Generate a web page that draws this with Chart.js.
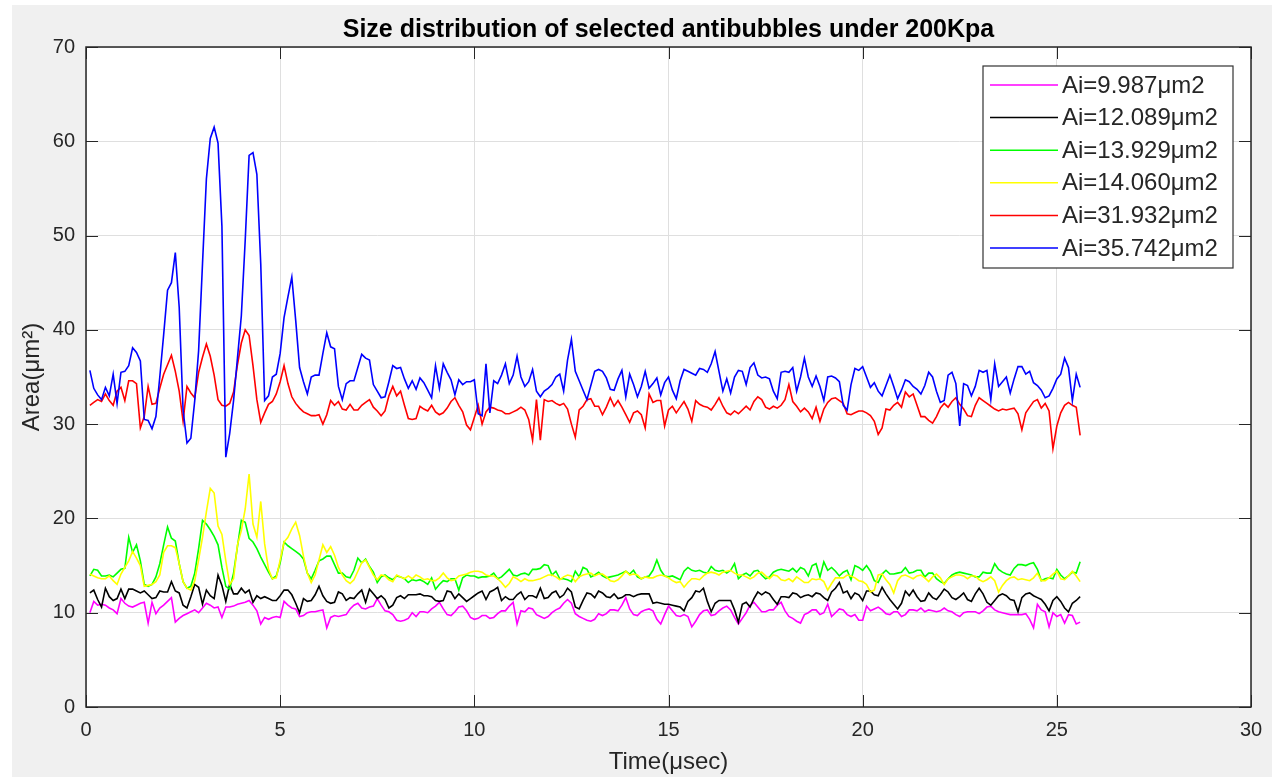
<!DOCTYPE html>
<html lang="en">
<head>
    <meta charset="UTF-8">
    <title>Size distribution of selected antibubbles under 200Kpa</title>
    <script src="https://cdn.jsdelivr.net/npm/chart.js"></script>
    <style>
        html, body { margin: 0; padding: 0; background: #fff; }
        #wrap { width: 1272px; height: 777px; }
    </style>
</head>
<body>
    <div id="wrap"><canvas id="areaChart" width="1272" height="777"></canvas></div>

    <script>
        // time axis (usec)
        const time = [
            0.1,0.2,0.3,0.4,0.5,0.6,0.7,0.8,0.9,1.0,
            1.1,1.2,1.3,1.4,1.5,1.6,1.7,1.8,1.9,2.0,
            2.1,2.2,2.3,2.4,2.5,2.6,2.7,2.8,2.9,3.0,
            3.1,3.2,3.3,3.4,3.5,3.6,3.7,3.8,3.9,4.0,
            4.1,4.2,4.3,4.4,4.5,4.6,4.7,4.8,4.9,5.0,
            5.1,5.2,5.3,5.4,5.5,5.6,5.7,5.8,5.9,6.0,
            6.1,6.2,6.3,6.4,6.5,6.6,6.7,6.8,6.9,7.0,
            7.1,7.2,7.3,7.4,7.5,7.6,7.7,7.8,7.9,8.0,
            8.1,8.2,8.3,8.4,8.5,8.6,8.7,8.8,8.9,9.0,
            9.1,9.2,9.3,9.4,9.5,9.6,9.7,9.8,9.9,10.0,
            10.1,10.2,10.3,10.4,10.5,10.6,10.7,10.8,10.9,11.0,
            11.1,11.2,11.3,11.4,11.5,11.6,11.7,11.8,11.9,12.0,
            12.1,12.2,12.3,12.4,12.5,12.6,12.7,12.8,12.9,13.0,
            13.1,13.2,13.3,13.4,13.5,13.6,13.7,13.8,13.9,14.0,
            14.1,14.2,14.3,14.4,14.5,14.6,14.7,14.8,14.9,15.0,
            15.1,15.2,15.3,15.4,15.5,15.6,15.7,15.8,15.9,16.0,
            16.1,16.2,16.3,16.4,16.5,16.6,16.7,16.8,16.9,17.0,
            17.1,17.2,17.3,17.4,17.5,17.6,17.7,17.8,17.9,18.0,
            18.1,18.2,18.3,18.4,18.5,18.6,18.7,18.8,18.9,19.0,
            19.1,19.2,19.3,19.4,19.5,19.6,19.7,19.8,19.9,20.0,
            20.1,20.2,20.3,20.4,20.5,20.6,20.7,20.8,20.9,21.0,
            21.1,21.2,21.3,21.4,21.5,21.6,21.7,21.8,21.9,22.0,
            22.1,22.2,22.3,22.4,22.5,22.6,22.7,22.8,22.9,23.0,
            23.1,23.2,23.3,23.4,23.5,23.6,23.7,23.8,23.9,24.0,
            24.1,24.2,24.3,24.4,24.5,24.6,24.7,24.8,24.9,25.0,
            25.1,25.2,25.3,25.4,25.5,25.6
        ];

        const a9987 = [
            10.0,11.2,10.8,10.9,10.8,10.5,10.3,9.9,11.5,11.0,
            10.7,10.6,10.8,11.0,11.1,8.9,11.1,9.9,10.5,10.8,
            11.2,11.6,9.0,9.4,9.7,9.9,10.1,10.3,10.0,10.5,
            11.0,10.8,10.5,10.6,9.5,10.6,10.6,10.7,10.9,11.0,
            11.1,11.3,10.8,10.2,8.8,9.5,9.3,9.5,9.6,9.5,
            11.2,10.8,10.5,10.4,9.6,9.7,10.0,10.1,10.1,10.2,
            10.3,8.4,9.5,9.7,9.6,9.7,9.8,10.4,10.8,11.0,
            10.5,10.4,10.6,10.7,11.5,10.8,10.2,10.1,9.8,9.2,
            9.1,9.2,9.4,10.0,9.6,10.1,10.1,10.0,10.4,10.7,
            11.1,10.4,9.8,9.7,10.1,10.6,10.7,10.2,9.5,9.3,
            9.4,9.7,9.7,9.4,9.5,9.9,10.2,10.2,10.7,11.1,
            8.8,10.2,10.1,10.5,10.4,9.8,9.6,9.4,9.6,10.0,
            10.3,10.5,11.0,11.4,11.0,9.9,9.6,9.4,9.2,9.1,
            9.3,9.9,9.7,9.9,10.3,10.3,10.2,10.8,11.6,10.4,
            9.8,9.7,10.1,10.3,10.4,10.2,9.3,8.8,9.8,10.7,
            10.2,9.7,9.6,9.8,9.6,8.5,9.1,9.8,10.2,10.3,
            9.7,9.8,10.2,10.5,10.7,10.3,9.5,8.8,9.4,10.0,
            10.8,11.1,10.6,10.1,10.1,10.3,10.3,10.8,11.1,10.2,
            9.6,9.4,9.1,8.9,9.8,10.0,10.3,10.3,9.8,10.0,
            10.9,9.6,10.0,10.4,10.3,9.8,9.6,9.8,9.2,9.2,
            10.7,10.2,10.4,10.6,10.3,9.9,9.8,10.1,10.1,9.6,
            9.8,10.3,10.3,10.2,10.5,10.1,10.3,10.2,10.1,10.2,
            10.5,10.2,10.1,9.8,9.6,10.0,10.1,10.1,10.1,9.9,
            10.2,10.6,10.7,10.3,10.1,10.0,9.9,9.8,9.8,9.8,
            9.8,9.9,9.3,8.4,10.9,10.3,10.1,8.5,10.0,9.6,
            9.8,8.9,9.8,9.7,8.8,9.0
        ];

        const a12089 = [
            12.1,12.4,11.4,10.6,12.6,11.7,11.3,11.5,12.5,11.5,
            12.5,12.5,12.3,12.1,12.3,11.9,11.5,11.6,12.3,12.2,
            12.2,13.3,12.3,12.1,10.8,10.5,11.7,13.0,12.7,10.9,
            12.4,11.8,11.5,14.0,12.9,11.2,13.0,12.0,12.0,12.6,
            12.1,12.4,11.1,11.8,11.5,11.7,11.5,11.3,11.3,11.8,
            12.4,12.4,11.9,11.0,10.0,11.5,11.2,11.3,11.9,12.8,
            11.8,11.2,11.0,11.1,12.2,12.0,11.3,11.6,11.5,12.0,
            12.4,11.1,12.5,12.0,11.5,11.8,11.4,10.5,10.8,11.6,
            11.8,11.5,11.9,11.9,11.9,12.0,11.8,11.8,11.7,11.3,
            11.2,11.3,12.3,12.2,11.5,12.0,11.6,11.2,11.5,11.8,
            12.1,12.3,11.4,12.2,12.4,12.7,11.3,11.7,11.4,11.4,
            11.9,12.2,11.4,11.8,11.8,11.6,12.6,11.5,11.6,12.1,
            12.3,11.6,11.9,12.6,12.2,10.6,10.4,11.3,12.1,12.0,
            11.6,12.3,12.1,11.7,11.6,12.0,11.5,11.6,11.9,11.9,
            11.7,11.9,12.0,12.0,12.0,11.0,11.1,11.0,10.9,10.9,
            10.8,10.7,10.6,10.2,11.2,11.6,12.3,12.2,12.6,11.2,
            10.1,11.0,11.3,11.3,11.3,11.3,10.3,9.0,10.9,11.1,
            10.6,11.5,12.2,11.9,12.2,12.0,11.4,10.9,11.7,11.7,
            11.6,12.1,12.0,11.6,11.8,11.9,11.7,12.1,12.0,11.6,
            11.3,12.2,12.6,13.2,12.1,12.3,11.5,12.1,11.9,11.3,
            12.3,12.3,11.9,11.8,12.7,12.0,11.4,10.9,10.4,11.0,
            12.3,11.8,12.4,11.7,11.2,11.3,12.1,11.6,11.4,11.9,
            12.5,12.2,11.6,11.4,11.7,12.1,11.4,11.2,12.0,12.6,
            12.0,11.1,10.8,11.3,11.8,12.0,11.8,11.4,11.3,10.1,
            11.6,12.0,12.1,11.8,11.6,11.4,10.9,10.2,11.3,11.7,
            11.2,10.5,10.1,11.0,11.3,11.7
        ];

        const a13929 = [
            13.9,14.6,14.5,13.9,13.9,14.0,13.8,14.2,14.6,14.7,
            18.0,16.4,17.2,15.5,13.0,12.8,13.0,13.8,15.2,17.2,
            19.1,17.9,17.6,15.2,13.3,12.6,12.8,14.2,16.8,19.8,
            19.4,18.8,18.1,17.2,14.8,12.8,12.5,14.2,17.0,19.8,
            19.6,17.9,17.5,16.8,15.9,15.1,14.3,13.6,13.9,15.3,
            17.5,17.1,16.8,16.5,16.2,15.7,14.2,13.6,14.5,15.5,
            15.7,16.0,16.0,15.1,14.2,14.2,13.8,13.7,14.5,15.8,
            15.3,15.7,14.9,14.3,13.2,13.8,14.0,13.7,13.5,13.9,
            13.8,13.6,13.2,13.5,13.4,13.5,13.3,13.0,13.7,12.5,
            13.0,13.4,13.3,13.6,13.6,12.4,13.7,14.0,13.9,13.9,
            13.7,13.8,13.8,13.9,14.2,13.6,13.8,14.2,14.6,14.0,
            13.9,14.1,14.2,14.0,14.6,14.6,14.7,15.1,15.0,14.0,
            14.4,13.6,13.6,13.5,13.3,14.4,13.8,14.8,14.6,13.8,
            14.0,14.3,13.9,13.7,13.8,13.9,14.0,14.2,14.4,14.1,
            14.5,13.8,13.6,13.8,13.9,14.5,15.6,14.5,13.9,13.8,
            13.9,13.7,13.5,14.4,14.8,14.5,14.4,14.5,14.3,14.2,
            14.9,14.5,14.4,14.5,14.2,14.5,15.2,13.6,14.0,14.2,
            13.9,14.4,14.5,14.0,13.6,13.8,14.3,14.5,14.6,14.5,
            14.4,14.7,14.3,14.8,14.6,13.9,15.0,15.2,13.8,15.4,
            14.5,14.8,14.4,13.9,14.3,14.5,13.5,15.0,14.8,14.5,
            15.0,14.4,13.4,13.2,14.1,14.5,14.1,14.1,14.2,14.3,
            14.8,14.2,14.3,14.5,14.5,13.8,14.2,14.2,13.6,13.3,
            13.1,13.6,14.0,14.2,14.3,14.2,14.1,14.0,13.8,13.8,
            14.3,14.2,14.2,15.2,14.6,14.3,14.1,14.0,14.7,15.1,
            15.1,15.0,15.2,15.3,14.6,13.4,13.6,13.7,13.6,14.6,
            14.0,13.6,13.9,14.3,14.2,15.4
        ];

        const a14060 = [
            14.1,13.9,13.7,13.6,13.6,13.9,13.4,13.0,14.1,14.8,
            15.5,16.5,15.8,15.0,12.8,12.9,13.0,13.3,14.0,16.4,
            17.1,17.1,16.9,15.2,13.3,12.6,12.4,13.4,15.6,18.0,
            20.7,23.2,22.7,19.2,18.3,15.5,13.0,13.6,17.2,18.7,
            21.0,24.7,19.4,18.0,21.8,17.3,14.6,13.6,13.7,15.6,
            17.5,18.0,18.9,19.6,18.2,16.0,14.2,13.2,14.0,15.6,
            17.2,16.4,17.0,16.1,14.8,14.0,13.4,13.1,13.5,14.4,
            15.3,15.6,14.8,14.0,13.5,14.0,13.9,13.5,13.3,14.0,
            13.8,13.6,13.9,13.6,14.0,13.8,13.5,13.6,13.4,13.4,
            13.7,14.2,13.7,13.4,13.5,13.9,14.0,14.1,14.3,14.4,
            14.4,14.3,14.0,13.9,13.9,13.6,13.2,12.7,13.1,13.8,
            13.6,13.3,13.6,13.4,13.4,13.5,13.6,13.8,14.0,14.0,
            13.8,13.5,13.8,14.0,13.9,13.3,13.8,14.0,14.1,14.2,
            13.9,14.1,14.1,13.8,13.4,13.3,13.5,13.9,14.4,14.0,
            14.1,14.0,13.6,13.8,13.7,13.7,13.9,14.0,13.9,13.7,
            13.4,13.2,13.3,12.7,13.2,13.6,13.6,13.5,13.9,14.2,
            14.3,14.2,14.0,14.3,14.4,14.5,14.2,14.0,14.0,13.8,
            13.6,13.8,14.2,14.3,13.9,13.6,14.0,13.9,13.5,13.4,
            13.6,13.3,13.8,13.5,13.2,13.2,13.6,13.5,13.6,13.3,
            12.4,13.1,13.7,13.7,13.7,14.0,13.9,13.7,13.4,13.3,
            13.0,12.2,12.4,14.0,14.1,13.5,13.0,12.1,13.4,13.9,
            14.0,13.8,13.6,13.9,14.0,13.7,13.3,13.8,14.1,13.7,
            13.0,13.6,13.8,14.0,14.0,13.9,13.6,13.9,13.9,13.5,
            13.3,13.5,13.8,13.4,12.2,12.9,13.4,13.7,13.8,13.5,
            13.6,13.5,13.4,13.7,14.2,13.4,13.4,13.7,14.1,14.4,
            13.6,13.5,13.9,14.4,13.9,13.3
        ];

        const a31932 = [
            32.0,32.3,32.6,32.4,33.2,32.5,32.0,33.5,33.9,32.5,
            34.6,34.6,34.3,29.6,30.8,34.0,32.1,32.2,33.8,35.3,
            36.3,37.3,35.6,33.5,30.3,34.0,33.3,32.8,35.5,37.1,
            38.5,37.2,35.2,32.6,32.0,31.9,32.2,33.4,36.3,38.6,
            40.0,39.4,36.2,32.6,30.2,31.2,32.1,32.4,33.2,34.5,
            36.2,34.3,32.9,32.2,31.7,31.3,31.1,30.9,30.9,31.0,
            30.0,31.0,32.5,32.0,32.4,31.6,31.5,32.1,31.5,31.5,
            32.0,32.3,32.6,31.8,31.4,30.9,31.4,33.0,34.0,33.0,
            33.5,32.0,30.6,30.5,30.6,31.9,31.6,31.4,32.0,31.3,
            31.0,31.2,31.7,32.4,32.8,32.0,31.3,29.9,29.4,30.7,
            32.0,30.0,31.3,31.8,31.7,31.5,31.4,31.1,31.1,31.3,
            31.5,31.8,31.5,30.5,28.3,32.6,28.3,32.6,32.4,32.5,
            32.2,32.0,32.2,31.6,30.0,28.6,31.5,31.9,32.6,32.7,
            31.9,31.9,31.0,31.8,32.8,31.9,32.5,31.8,31.0,30.2,
            31.2,31.4,31.0,29.6,33.2,32.3,32.5,32.5,29.8,31.5,
            31.9,31.2,31.8,32.4,31.6,30.3,32.5,32.1,31.9,31.8,
            31.5,32.1,32.8,31.9,31.2,31.0,31.4,31.1,31.5,31.9,
            31.5,32.4,32.9,32.6,31.8,31.6,31.9,31.7,32.0,32.6,
            34.2,32.4,31.9,31.3,31.7,31.3,30.6,31.8,30.3,31.6,
            32.3,32.7,32.8,32.5,32.2,31.1,31.0,31.2,31.4,31.4,
            31.2,30.9,30.3,28.9,29.6,31.6,31.5,32.0,32.3,31.8,
            33.4,32.9,33.2,32.0,30.8,30.8,30.4,30.1,30.8,31.7,
            32.2,31.8,32.4,32.8,32.1,31.6,30.9,30.8,32.0,32.8,
            32.5,32.2,31.9,31.6,31.4,31.6,31.5,31.6,31.7,31.1,
            29.4,31.2,31.8,32.4,32.6,31.7,32.2,31.4,27.4,29.8,
            31.2,32.0,32.3,32.0,31.8,28.8
        ];

        const a35742 = [
            35.7,33.8,33.1,32.6,33.9,33.0,35.3,32.2,35.5,35.6,
            36.2,38.1,37.6,36.7,30.5,30.4,29.5,30.8,35.0,39.5,
            44.2,45.0,48.2,42.4,31.5,28.0,28.5,32.5,37.8,47.0,
            56.0,60.3,61.5,59.8,51.0,26.5,29.0,32.5,37.0,41.5,
            49.5,58.5,58.8,56.5,47.0,32.5,33.0,35.0,35.3,37.5,
            41.3,43.5,45.6,41.0,36.0,34.5,33.2,35.0,35.2,35.2,
            37.5,39.7,38.2,38.0,34.0,32.6,34.3,34.6,34.6,36.0,
            37.4,37.0,36.8,34.2,33.5,32.8,32.9,34.5,36.2,35.9,
            36.0,34.8,33.8,34.6,33.7,34.9,34.4,33.6,32.8,36.2,
            33.8,36.4,35.5,34.7,33.1,34.7,34.2,34.5,34.5,34.7,
            31.1,30.9,36.4,31.2,34.6,34.3,35.2,36.4,34.3,35.2,
            37.2,35.0,34.0,34.5,35.8,33.5,32.9,33.5,33.8,34.2,
            35.0,35.3,33.5,36.8,39.0,35.6,34.6,33.6,32.6,34.1,
            35.6,35.8,35.6,34.9,33.7,33.6,34.8,35.7,32.9,35.3,
            34.2,32.9,34.0,35.6,33.8,34.3,34.9,33.1,34.4,35.0,
            33.6,32.7,34.6,35.8,35.6,35.4,35.2,35.9,35.8,35.5,
            36.4,37.7,35.6,33.5,34.8,33.3,35.0,35.7,35.6,34.2,
            36.0,36.5,35.2,34.9,35.0,34.8,33.5,32.7,35.5,35.6,
            35.5,36.0,33.5,35.0,37.0,35.0,34.0,35.1,34.0,32.5,
            35.0,35.1,34.9,34.5,32.0,31.5,34.2,35.9,35.7,36.1,
            35.0,33.9,34.4,33.5,33.0,34.1,35.2,34.0,32.7,33.6,
            34.7,34.5,34.0,33.7,33.2,34.1,35.5,35.0,33.5,32.3,
            32.5,35.2,35.5,34.3,29.8,34.3,34.1,33.0,34.0,35.7,
            35.5,35.7,32.6,36.4,34.0,34.5,35.0,33.3,34.8,36.1,
            36.1,35.3,35.6,34.4,34.1,33.6,32.8,33.0,33.8,34.8,
            35.3,37.0,36.0,32.5,35.3,33.9
        ];

        const seriesLabels = ['Ai=9.987\u03bcm2', 'Ai=12.089\u03bcm2', 'Ai=13.929\u03bcm2',
                              'Ai=14.060\u03bcm2', 'Ai=31.932\u03bcm2', 'Ai=35.742\u03bcm2'];
        const seriesValues = [a9987, a12089, a13929, a14060, a31932, a35742];
        const seriesColors = ['#ff00ff', '#000000', '#00ff00', '#ffff00', '#ff0000', '#0000ff'];

        const xTicks = [0, 5, 10, 15, 20, 25, 30];
        const yTicks = [0, 10, 20, 30, 40, 50, 60, 70];

        const FONT = '"Liberation Sans", Arial, sans-serif';
        const AXIS_COLOR = '#262626';

        // figure background, axes box, inward ticks and legend like a matlab figure
        const matlabLook = {
            id: 'matlabLook',
            beforeDraw(chart) {
                const { ctx, chartArea: a } = chart;
                ctx.save();
                ctx.fillStyle = '#f0f0f0';
                ctx.fillRect(12, 5, chart.width - 12, chart.height - 5);
                ctx.fillStyle = '#ffffff';
                ctx.fillRect(a.left, a.top, a.right - a.left, a.bottom - a.top);
                ctx.restore();
            },
            afterDatasetsDraw(chart) {
                const { ctx, chartArea: a, scales } = chart;
                const tick = 12;
                ctx.save();
                ctx.strokeStyle = AXIS_COLOR;
                ctx.lineWidth = 1;
                ctx.beginPath();
                xTicks.forEach(v => {
                    const px = Math.round(scales.x.getPixelForValue(v)) + 0.5;
                    ctx.moveTo(px, a.bottom); ctx.lineTo(px, a.bottom - tick);
                    ctx.moveTo(px, a.top); ctx.lineTo(px, a.top + tick);
                });
                yTicks.forEach(v => {
                    const py = Math.round(scales.y.getPixelForValue(v)) + 0.5;
                    ctx.moveTo(a.left, py); ctx.lineTo(a.left + tick, py);
                    ctx.moveTo(a.right, py); ctx.lineTo(a.right - tick, py);
                });
                ctx.stroke();
                ctx.lineWidth = 1.5;
                ctx.strokeRect(a.left, a.top, a.right - a.left, a.bottom - a.top);

                // legend box
                const lx = a.right - 268, ly = a.top + 19, lw = 250, lh = 202;
                ctx.fillStyle = '#ffffff';
                ctx.fillRect(lx, ly, lw, lh);
                ctx.strokeStyle = '#333333';
                ctx.lineWidth = 1.2;
                ctx.strokeRect(lx, ly, lw, lh);
                ctx.font = '24px ' + FONT;
                ctx.textBaseline = 'middle';
                ctx.textAlign = 'left';
                chart.data.datasets.forEach((ds, i) => {
                    const ry = ly + 19 + i * 32.6;
                    ctx.strokeStyle = ds.borderColor;
                    ctx.lineWidth = 1.5;
                    ctx.beginPath();
                    ctx.moveTo(lx + 7, ry);
                    ctx.lineTo(lx + 75, ry);
                    ctx.stroke();
                    ctx.fillStyle = AXIS_COLOR;
                    ctx.fillText(ds.label, lx + 79, ry + 1);
                });
                ctx.restore();
            }
        };

        const datasets = seriesValues.map((vals, i) => ({
            label: seriesLabels[i],
            data: time.map((t, k) => ({ x: t, y: vals[k] })),
            borderColor: seriesColors[i],
            backgroundColor: seriesColors[i],
            borderWidth: 1.6,
            pointRadius: 0,
            tension: 0,
            fill: false,
            // later series drawn on top
            order: seriesValues.length - i
        }));

        new Chart(document.getElementById('areaChart'), {
            type: 'line',
            data: { datasets },
            plugins: [matlabLook],
            options: {
                responsive: false,
                animation: false,
                events: [],
                layout: { padding: { left: 0, right: 21, top: 0, bottom: 0 } },
                plugins: {
                    legend: { display: false },
                    tooltip: { enabled: false },
                    title: {
                        display: true,
                        fullSize: false,
                        text: 'Size distribution of selected antibubbles under 200Kpa',
                        color: '#000000',
                        font: { family: FONT, size: 25, weight: 'bold' },
                        padding: { top: 15, bottom: 2 }
                    }
                },
                scales: {
                    x: {
                        type: 'linear',
                        min: 0,
                        max: 30,
                        afterBuildTicks: s => { s.ticks = xTicks.map(v => ({ value: v })); },
                        afterFit: s => { s.height = 70; s.paddingLeft = 0; s.paddingRight = 0; },
                        grid: { color: '#dfdfdf', lineWidth: 1, drawTicks: false },
                        border: { display: false },
                        ticks: {
                            padding: 11,
                            color: AXIS_COLOR,
                            maxRotation: 0,
                            font: { family: FONT, size: 20 }
                        },
                        title: {
                            display: true,
                            text: 'Time(\u03bcsec)',
                            color: AXIS_COLOR,
                            font: { family: FONT, size: 24 },
                            padding: { top: 0, bottom: 0 }
                        }
                    },
                    y: {
                        type: 'linear',
                        min: 0,
                        max: 70,
                        afterBuildTicks: s => { s.ticks = yTicks.map(v => ({ value: v })); },
                        afterFit: s => { s.width = 86; s.paddingTop = 0; s.paddingBottom = 0; },
                        grid: { color: '#dfdfdf', lineWidth: 1, drawTicks: false },
                        border: { display: false },
                        ticks: {
                            padding: 11,
                            color: AXIS_COLOR,
                            font: { family: FONT, size: 20 }
                        },
                        title: {
                            display: true,
                            text: 'Area(\u03bcm\u00b2)',
                            color: AXIS_COLOR,
                            font: { family: FONT, size: 24 },
                            padding: { top: 18, bottom: 0 }
                        }
                    }
                }
            }
        });
    </script>
</body>
</html>
